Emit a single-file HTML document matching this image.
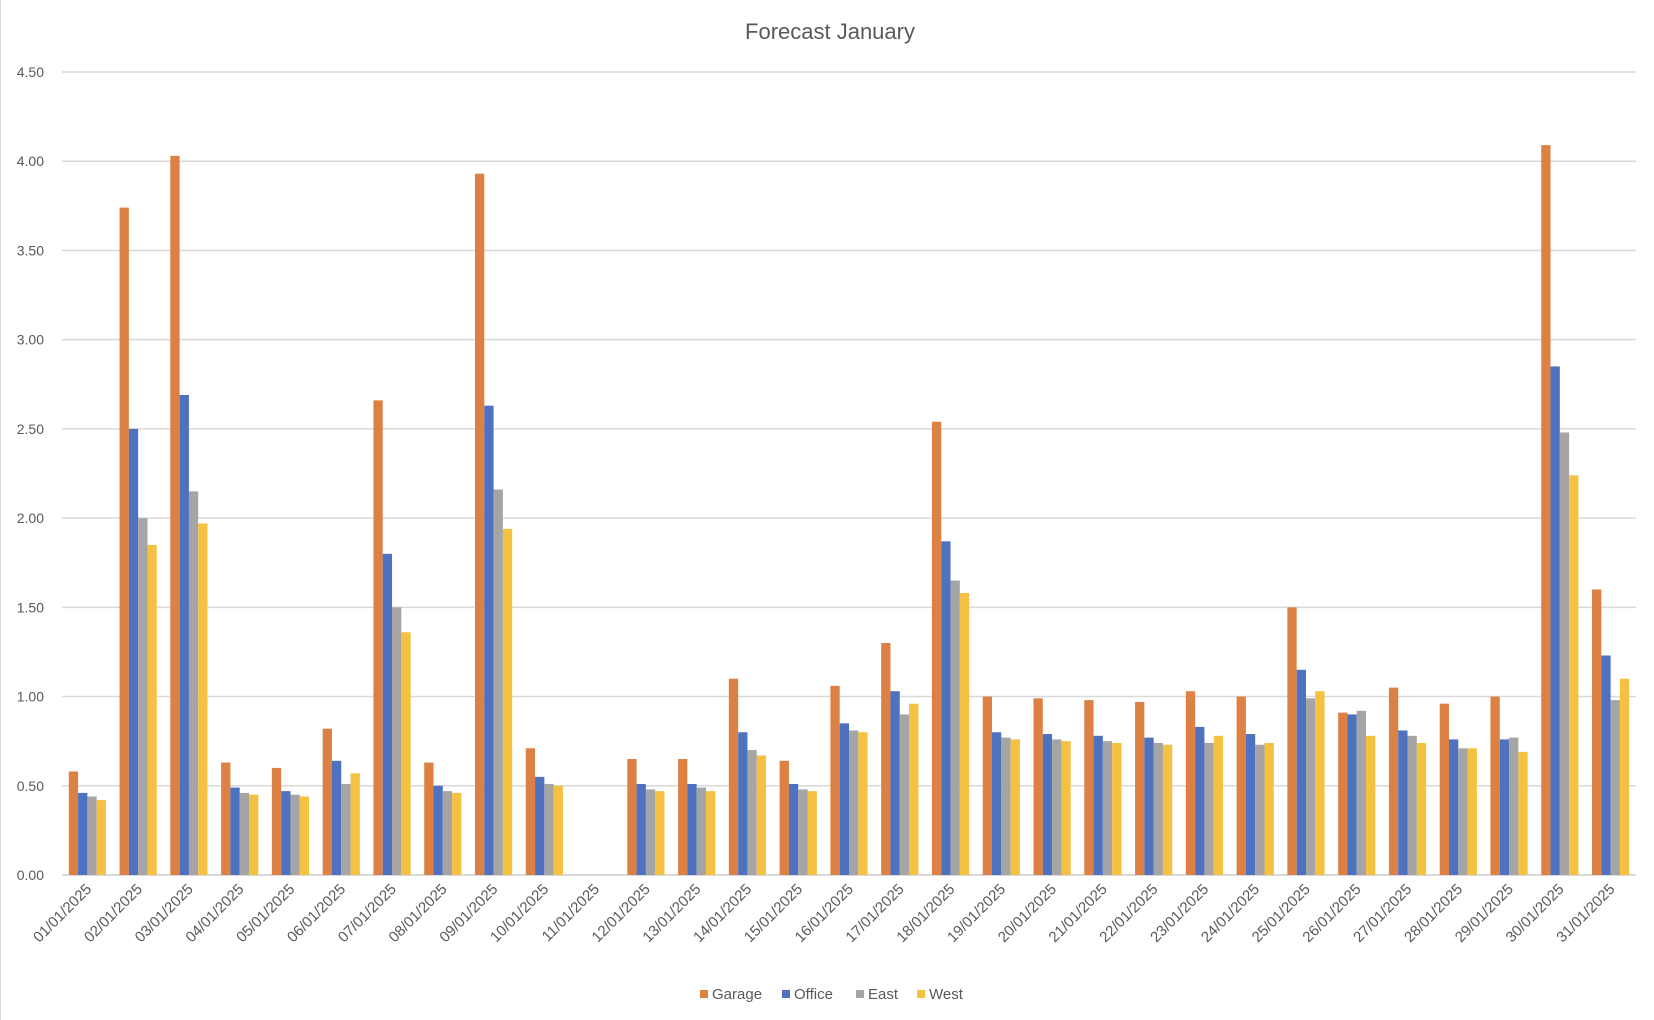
<!DOCTYPE html>
<html><head><meta charset="utf-8"><style>
body{margin:0;background:#fff}
svg{display:block;font-family:"Liberation Sans",sans-serif}
</style></head><body>
<svg id="chart" width="1654" height="1020" viewBox="0 0 1654 1020" xmlns="http://www.w3.org/2000/svg">
<rect x="0" y="0" width="1654" height="1020" fill="#fff"/>
<line x1="0.5" y1="0" x2="0.5" y2="1020" stroke="#d9d9d9"/>
<text x="830" y="39" text-anchor="middle" font-size="22" fill="#595959">Forecast January</text>
<g id="grid"></g><g id="bars"></g><g id="xlabels"></g>
<g font-size="15" fill="#595959">
<g><rect x="700" y="990" width="8" height="8" fill="#dd8043"/><text x="712" y="999">Garage</text></g>
<g><rect x="782" y="990" width="8" height="8" fill="#4e72c0"/><text x="794" y="999">Office</text></g>
<g><rect x="856" y="990" width="8" height="8" fill="#a5a5a5"/><text x="868" y="999">East</text></g>
<g><rect x="917" y="990" width="8" height="8" fill="#f4c142"/><text x="929" y="999">West</text></g>
</g>
</svg>
<script>
const categories = ["01/01/2025","02/01/2025","03/01/2025","04/01/2025","05/01/2025","06/01/2025","07/01/2025","08/01/2025","09/01/2025","10/01/2025","11/01/2025","12/01/2025","13/01/2025","14/01/2025","15/01/2025","16/01/2025","17/01/2025","18/01/2025","19/01/2025","20/01/2025","21/01/2025","22/01/2025","23/01/2025","24/01/2025","25/01/2025","26/01/2025","27/01/2025","28/01/2025","29/01/2025","30/01/2025","31/01/2025"];
const garage = [0.58,3.74,4.03,0.63,0.60,0.82,2.66,0.63,3.93,0.71,0,0.65,0.65,1.10,0.64,1.06,1.30,2.54,1.00,0.99,0.98,0.97,1.03,1.00,1.50,0.91,1.05,0.96,1.00,4.09,1.60];
const office = [0.46,2.50,2.69,0.49,0.47,0.64,1.80,0.50,2.63,0.55,0,0.51,0.51,0.80,0.51,0.85,1.03,1.87,0.80,0.79,0.78,0.77,0.83,0.79,1.15,0.90,0.81,0.76,0.76,2.85,1.23];
const east = [0.44,2.00,2.15,0.46,0.45,0.51,1.50,0.47,2.16,0.51,0,0.48,0.49,0.70,0.48,0.81,0.90,1.65,0.77,0.76,0.75,0.74,0.74,0.73,0.99,0.92,0.78,0.71,0.77,2.48,0.98];
const west = [0.42,1.85,1.97,0.45,0.44,0.57,1.36,0.46,1.94,0.50,0,0.47,0.47,0.67,0.47,0.80,0.96,1.58,0.76,0.75,0.74,0.73,0.78,0.74,1.03,0.78,0.74,0.71,0.69,2.24,1.10];
const yTicks = [0,0.5,1,1.5,2,2.5,3,3.5,4,4.5];
const seriesNames = ["garage","office","east","west"];
const seriesColors = ["#dd8043","#4e72c0","#a5a5a5","#f4c142"];

const NS="http://www.w3.org/2000/svg";
const L=62,R=1636,T=72,B=875,YMAX=4.5;
const y=v=>B-(v/YMAX)*(B-T);
const bandW=(R-L)/categories.length;
const x=i=>L+i*bandW;
const barW=9.3, groupW=barW*4;
const grid=document.getElementById('grid');
yTicks.forEach(t=>{
  const ln=document.createElementNS(NS,'line');
  
  
  ln.setAttribute('x1',L);ln.setAttribute('x2',R);
  ln.setAttribute('y1',y(t));ln.setAttribute('y2',y(t));
  ln.setAttribute('stroke','#d9d9d9');ln.setAttribute('stroke-width',t===0?2:1.5);
  grid.appendChild(ln);
  const tx=document.createElementNS(NS,'text');
  
  
  tx.setAttribute('x',44);tx.setAttribute('y',y(t)+5);
  tx.setAttribute('text-anchor','end');tx.setAttribute('font-size','14');tx.setAttribute('fill','#595959');
  tx.textContent=t.toFixed(2);
  grid.appendChild(tx);
});
const bars=document.getElementById('bars');
const series=[garage,office,east,west];
series.forEach((s,si)=>{
  s.forEach((v,i)=>{
    if(!v) return;
    const r=document.createElementNS(NS,'rect');
    
    
    const gx=x(i)+(bandW-groupW)/2+si*barW;
    r.setAttribute('x',gx);r.setAttribute('width',barW);
    r.setAttribute('y',y(v));r.setAttribute('height',B-y(v));
    r.setAttribute('fill',seriesColors[si]);
    bars.appendChild(r);
  });
});
const xl=document.getElementById('xlabels');
categories.forEach((c,i)=>{
  const cx=x(i)+bandW/2+5, cy=890;
  const tx=document.createElementNS(NS,'text');
  
  
  tx.setAttribute('x',cx);tx.setAttribute('y',cy);
  tx.setAttribute('text-anchor','end');tx.setAttribute('font-size','15');tx.setAttribute('fill','#595959');
  tx.setAttribute('transform','rotate(-45 '+cx+' '+cy+')');
  tx.textContent=c;
  xl.appendChild(tx);
});
</script>
</body></html>
